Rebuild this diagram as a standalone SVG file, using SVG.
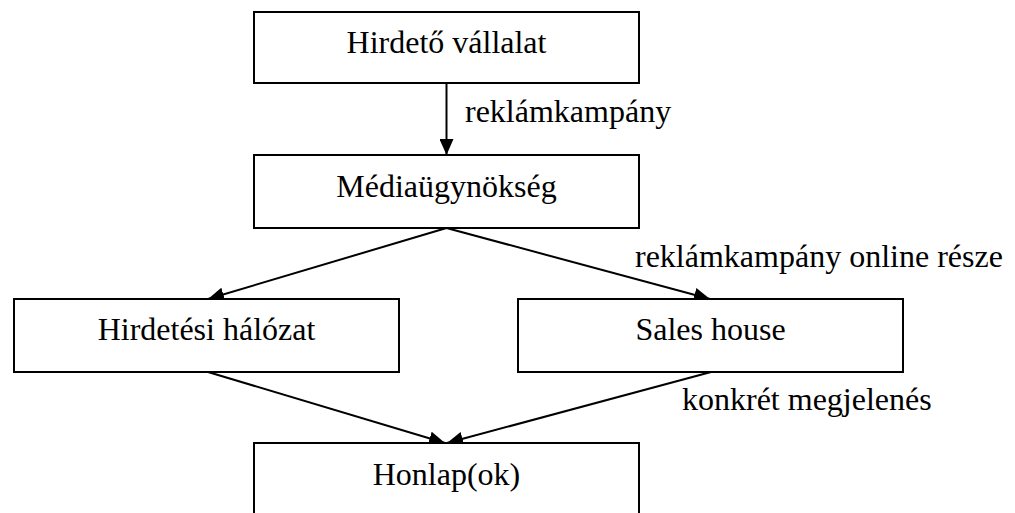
<svg xmlns="http://www.w3.org/2000/svg" width="1015" height="513" viewBox="0 0 1015 513">
  <style>
    .box { fill: #fff; stroke: #000; stroke-width: 2; }
    .lbl { font-family: "Liberation Serif", "Times New Roman", serif; font-size: 32px; fill: #000; }
    .mid { text-anchor: middle; }
    .edge { stroke: #000; stroke-width: 2; fill: none; marker-end: url(#arrow); }
  </style>
  <defs>
    <marker id="arrow" markerUnits="userSpaceOnUse" markerWidth="16" markerHeight="14" viewBox="0 0 16 14" refX="16" refY="7" orient="auto">
      <path d="M0,0 L16,7 L0,14 Z" fill="#000"/>
    </marker>
  </defs>
  <rect width="1015" height="513" fill="#fff"/>

  <!-- connectors -->
  <g id="connectors">
    <line class="edge" x1="446.5" y1="83" x2="446.5" y2="155"/>
    <line class="edge" x1="446.5" y1="228" x2="208" y2="299"/>
    <line class="edge" x1="446.5" y1="228" x2="710" y2="299"/>
    <line class="edge" x1="208" y1="372" x2="445" y2="443"/>
    <line class="edge" x1="711" y1="372" x2="447" y2="443"/>
    <text class="lbl" x="465" y="122">reklámkampány</text>
    <text class="lbl" x="635" y="267">reklámkampány online része</text>
    <text class="lbl" x="682" y="410">konkrét megjelenés</text>
  </g>

  <g id="hirdeto">
    <rect class="box" x="254" y="12" width="385" height="71"/>
    <text class="lbl mid" x="446.5" y="53">Hirdető vállalat</text>
  </g>
  <g id="mediaugynokseg">
    <rect class="box" x="254" y="155" width="385" height="73"/>
    <text class="lbl mid" x="446.5" y="197">Médiaügynökség</text>
  </g>
  <g id="halozat">
    <rect class="box" x="14" y="299" width="385" height="73"/>
    <text class="lbl mid" x="206.5" y="340">Hirdetési hálózat</text>
  </g>
  <g id="saleshouse">
    <rect class="box" x="518" y="299" width="385" height="73"/>
    <text class="lbl mid" x="710.5" y="340">Sales house</text>
  </g>
  <g id="honlap">
    <rect class="box" x="254" y="443" width="385" height="80"/>
    <text class="lbl mid" x="446.5" y="485">Honlap(ok)</text>
  </g>
</svg>
